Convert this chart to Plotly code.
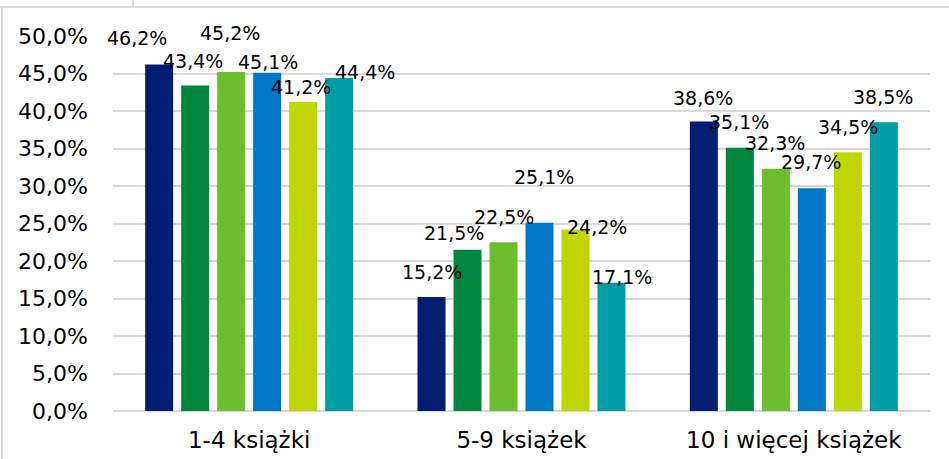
import plotly.graph_objects as go

categories = ["1-4 książki", "5-9 książek", "10 i więcej książek"]
series_names = ["Seria 1", "Seria 2", "Seria 3", "Seria 4", "Seria 5", "Seria 6"]
values = [
    [0.462, 0.152, 0.386],
    [0.434, 0.215, 0.351],
    [0.452, 0.225, 0.323],
    [0.451, 0.251, 0.297],
    [0.412, 0.242, 0.345],
    [0.444, 0.171, 0.385],
]
colors = ["#021E73", "#00873F", "#6CBE2C", "#0078C8", "#BFD600", "#009DA6"]

# label placement tweaks (pixels): horizontal and vertical offsets of each data label
label_dx = [
    [-22, 0, -1],
    [-2, -14, -1],
    [-1, 0, -1],
    [1, 5, -1],
    [-2, 22, 0],
    [26, 11, -1],
]
label_dy = [
    [27, 25, 24],
    [25, 17, 26],
    [39, 25, 26],
    [11, 46, 26],
    [15, 3, 25],
    [6, 6, 25],
]

W, H = 949, 459
L, R, T, B = 113, 19, 36, 48
pw, ph = W - L - R, H - T - B
BARGAP = 0.207
slot = pw / len(categories) * (1 - BARGAP) / len(series_names)
FONT = "DejaVu Sans, sans-serif"

fig = go.Figure()
annotations = []
for i, (name, vals, col) in enumerate(zip(series_names, values, colors)):
    fig.add_trace(go.Bar(
        x=categories, y=vals, name=name,
        marker=dict(color=col, line=dict(width=0)),
        hoverinfo="x+y",
    ))
    for j, v in enumerate(vals):
        annotations.append(dict(
            x=categories[j], y=v, xref="x", yref="y",
            text=f"{v*100:.1f}%".replace(".", ","),
            showarrow=False, xanchor="center", yanchor="middle",
            xshift=(i - (len(series_names) - 1) / 2) * slot + label_dx[i][j],
            yshift=label_dy[i][j],
            font=dict(family=FONT, size=19, color="#000000"),
        ))

def px_x(x):
    return (x - L) / pw

def px_y(y):
    return (H - B - y) / ph

fig.update_layout(
    width=W, height=H,
    margin=dict(l=L, r=R, t=T, b=B, autoexpand=False),
    paper_bgcolor="white", plot_bgcolor="white",
    separators=", ",
    barmode="group", bargap=BARGAP, bargroupgap=0.222,
    showlegend=False,
    font=dict(family=FONT, size=22, color="#000000"),
    annotations=annotations,
    xaxis=dict(showgrid=False, showline=False, ticks="", tickfont=dict(size=23),
               automargin=False, ticklabelstandoff=13,
               range=[-0.5, len(categories) - 0.5], domain=[0, 1]),
    yaxis=dict(range=[0, 0.5], dtick=0.05, tickformat=".1%",
               showgrid=True, gridcolor="#D9D9D9", gridwidth=1.5,
               zeroline=True, zerolinecolor="#D9D9D9", zerolinewidth=1.5,
               showline=False, ticks="", tickfont=dict(size=22),
               ticklabelstandoff=24, automargin=False),
    shapes=[
        dict(type="line", xref="paper", yref="paper",
             x0=px_x(0), x1=px_x(W), y0=px_y(7), y1=px_y(7),
             line=dict(color="#D9D9D9", width=2)),
        dict(type="line", xref="paper", yref="paper",
             x0=px_x(133), x1=px_x(133), y0=px_y(0), y1=px_y(7),
             line=dict(color="#D9D9D9", width=2)),
        dict(type="line", xref="paper", yref="paper",
             x0=px_x(2), x1=px_x(2), y0=px_y(7), y1=px_y(H),
             line=dict(color="#D9D9D9", width=2)),
    ],
)

fig.write_html("out.html", config={"displayModeBar": False},
               post_script="document.body.style.margin='0';document.body.style.overflow='hidden';")
